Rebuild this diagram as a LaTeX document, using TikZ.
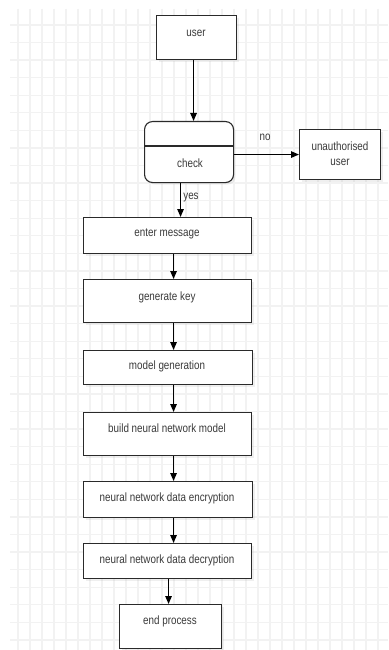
\documentclass[tikz,border=0pt]{standalone}
\usepackage{fontspec}
\setmainfont{Liberation Sans}[FakeStretch=0.82]
\usetikzlibrary{arrows.meta,shadows,calc}
\definecolor{gridc}{HTML}{F2F2F2}
\definecolor{txtc}{HTML}{3A3A3A}
\definecolor{linec}{HTML}{2A2A2A}
\tikzset{
  box/.style={draw=linec, line width=1.1pt, fill=white, anchor=north west, inner sep=0pt,
    drop shadow={opacity=0.12, shadow xshift=2pt, shadow yshift=-2pt}},
  txt/.style={text=txtc, font=\fontsize{12}{14}\selectfont, inner sep=0pt, align=center},
  arr/.style={draw=black, line width=1.2pt, -{Triangle[length=8pt,width=6.5pt]}},
}
\begin{document}
\begin{tikzpicture}[x=1pt,y=-1pt]
\useasboundingbox (0,0) rectangle (388,650);
\fill[white] (0,0) rectangle (388,650);
% grid
\foreach \k in {0,...,30} \draw[gridc, line width=1.3pt] ({18+12*\k},9) -- ({18+12*\k},650);
\foreach \k in {0,...,35} \draw[gridc, line width=1.3pt] (10,{25+17.57*\k}) -- (388,{25+17.57*\k});
% boxes
\node[box, minimum width=80pt, minimum height=44pt] (user) at (156,15) {};
\node[txt] (usert) at (196,33) {user};
\node[box, rounded corners=8pt, minimum width=89pt, minimum height=61pt] (check) at (144,121) {};
\coordinate (cdiv) at (0,146);
\draw[linec, line width=1.1pt] (check.west |- cdiv) -- (check.east |- cdiv);
\node[txt] (checkt) at (190,163) {check};
\node[box, minimum width=81pt, minimum height=50pt] (unauth) at (299,129) {};
\node[txt, text width=80pt, font=\fontsize{12}{15}\selectfont] (unautht) at (340,154) {unauthorised\\user};
\node[box, minimum width=168pt, minimum height=36pt] (enter) at (83,217) {};
\node[txt] (entert) at (167,234) {enter message};
\node[box, minimum width=168pt, minimum height=43pt] (gen) at (83,279) {};
\node[txt] (gent) at (167,297) {generate key};
\node[box, minimum width=169pt, minimum height=34pt] (model) at (83,350) {};
\node[txt] (modelt) at (167,366) {model generation};
\node[box, minimum width=168pt, minimum height=43pt] (build) at (83,412) {};
\node[txt] (buildt) at (167,428) {build neural network model};
\node[box, minimum width=169pt, minimum height=36pt] (enc) at (83,481) {};
\node[txt] (enct) at (167,498) {neural network data encryption};
\node[box, minimum width=168pt, minimum height=35pt] (dec) at (83,543) {};
\node[txt] (dect) at (167,560) {neural network data decryption};
\node[box, minimum width=102pt, minimum height=44pt] (endp) at (119,604) {};
\node[txt] (endt) at (170,621) {end process};
% connectors
\draw[arr] ([xshift=-3pt]user.south) -- ([xshift=-3pt]user.south |- check.north);
\draw[arr] (unauth.west -| check.east) -- (unauth.west);
\node[txt] (nolbl) at (265,137) {no};
\draw[arr] ([xshift=-8.5pt]check.south) -- ([xshift=-8.5pt]check.south |- enter.north);
\node[txt] (yeslbl) at (191,198) {yes};
\draw[arr] ([xshift=6pt]enter.south) -- ([xshift=6pt]enter.south |- gen.north);
\draw[arr] ([xshift=6pt]gen.south) -- ([xshift=6pt]gen.south |- model.north);
\draw[arr] ([xshift=5.5pt]model.south) -- ([xshift=5.5pt]model.south |- build.north);
\draw[arr] ([xshift=6pt]build.south) -- ([xshift=6pt]build.south |- enc.north);
\draw[arr] ([xshift=5.5pt]enc.south) -- ([xshift=5.5pt]enc.south |- dec.north);
\draw[arr] ([xshift=1pt]dec.south) -- ([xshift=1pt]dec.south |- endp.north);
\end{tikzpicture}
\end{document}
